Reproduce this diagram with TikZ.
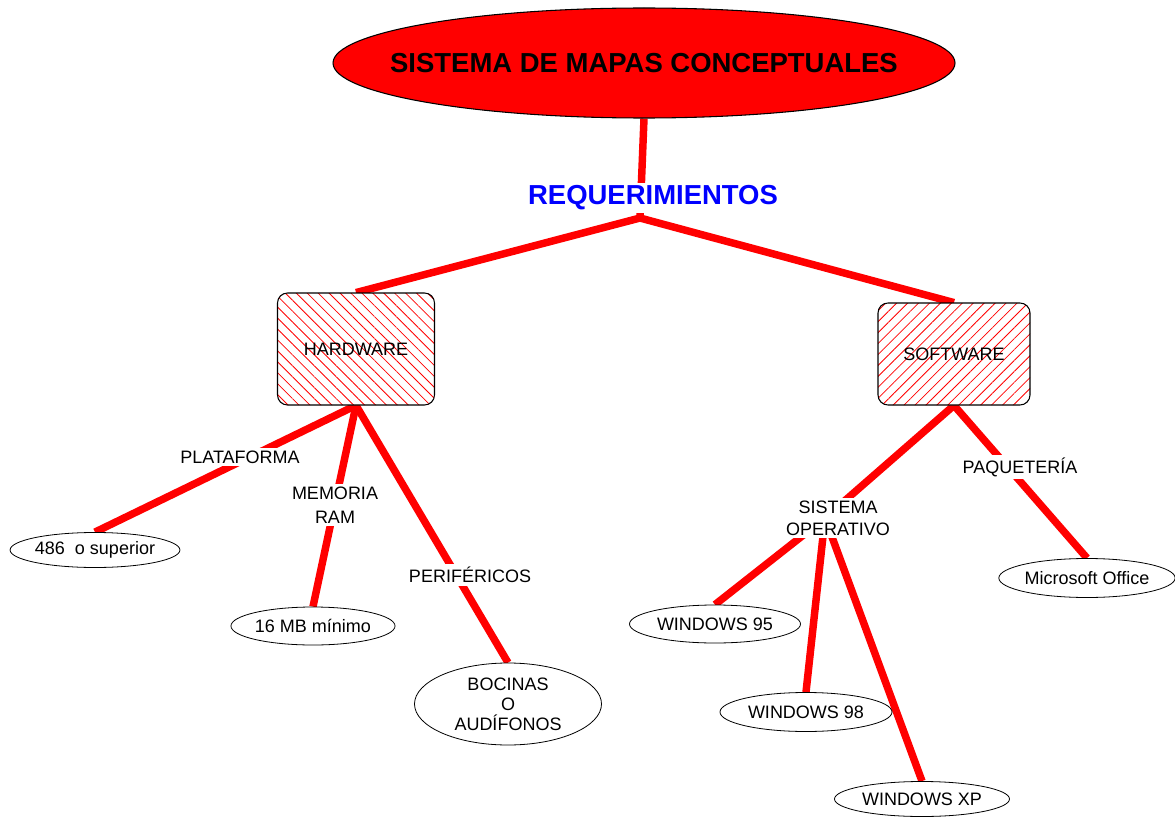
\documentclass[tikz,border=0pt]{standalone}
\usepackage{fontspec}
\setmainfont{Liberation Sans}
\usepackage{xcolor}
\usetikzlibrary{shapes.geometric,patterns.meta,backgrounds,calc}
\definecolor{mapred}{HTML}{FF0000}
\definecolor{mapblue}{HTML}{0000FF}

\begin{document}
\begin{tikzpicture}[x=0.75pt,y=-0.75pt,font=\fontsize{13.5}{16.5}\selectfont]
    \tikzstyle{conn}=[draw=mapred,line width=5.6pt]
    \tikzstyle{topic}=[ellipse,draw,fill=mapred,line width=0.8pt,inner xsep=-26pt,inner ysep=0pt,font=\fontsize{20.6}{24}\selectfont\bfseries]
    \tikzstyle{cat}=[draw,rounded corners=7.5pt,line width=0.8pt,preaction={fill=white},pattern color=mapred]
    \tikzstyle{leaf}=[ellipse,draw,fill=white,line width=0.6pt,inner sep=0pt,align=center]
    \tikzstyle{link}=[fill=white,inner sep=2pt,align=center]
    \useasboundingbox (0,0) rectangle (1175,817);
    % concepts
    \node[topic,minimum width=466.5pt,minimum height=82.5pt] (title) at (644,63) {SISTEMA DE MAPAS CONCEPTUALES};
    \node[cat,pattern={Lines[angle=-45,distance=5.8pt,line width=0.6pt]},minimum width=117.75pt,minimum height=84pt] (hw) at (356,349) {HARDWARE};
    \node[cat,pattern={Lines[angle=45,distance=5.8pt,line width=0.6pt]},minimum width=114pt,minimum height=76.5pt] (sw) at (954,354) {SOFTWARE};
    \node[leaf,minimum width=124.5pt,minimum height=26.25pt] (e486) at (95,550) {486~~o superior};
    \node[leaf,minimum width=122.25pt,minimum height=28.5pt] (e16) at (313,626) {16 MB mínimo};
    \node[leaf,minimum width=140.25pt,minimum height=61.5pt,font=\fontsize{13.5}{15}\selectfont] (boc) at (508,704) {BOCINAS\\O\\AUDÍFONOS};
    \node[leaf,minimum width=128.25pt,minimum height=28.5pt] (w95) at (715,624) {WINDOWS 95};
    \node[leaf,minimum width=129pt,minimum height=29.25pt] (w98) at (806,712) {WINDOWS 98};
    \node[leaf,minimum width=131.25pt,minimum height=26.25pt] (wxp) at (922,799) {WINDOWS XP};
    \node[leaf,minimum width=129.75pt,minimum height=29.25pt] (ms) at (1087,578) {Microsoft Office};
    % linking words
    \node[link,text=mapblue,font=\fontsize{20.6}{24}\selectfont\bfseries] (req) at (653,198) {REQUERIMIENTOS};
    \node[link] (plat) at (240,457) {PLATAFORMA};
    \node[link,font=\fontsize{13.5}{18}\selectfont] (mem) at (335,505) {MEMORIA\\RAM};
    \node[link] (per) at (470,575) {PERIFÉRICOS};
    \node[link] (so) at (838,518) {SISTEMA\\OPERATIVO};
    \node[link] (paq) at (1020,467) {PAQUETERÍA};
    \coordinate (fork) at (640,218);
    \coordinate (sohub) at ($(so.center)+(-13,0)$);
    \begin{scope}[on background layer]
      \draw[conn] (title.south) -- (fork);
      \foreach \b in {hw,sw} \draw[conn] (fork) -- (\b.north);
      \foreach \b in {e486,e16,boc} \draw[conn] (hw.south) -- (\b.north);
      \draw[conn] (sw.south) -- (ms.north);
      \draw[conn] (sw.south) -- (sohub);
      \foreach \b in {w95,w98,wxp} \draw[conn] (sohub) -- (\b.north);
    \end{scope}
\end{tikzpicture}
\end{document}
